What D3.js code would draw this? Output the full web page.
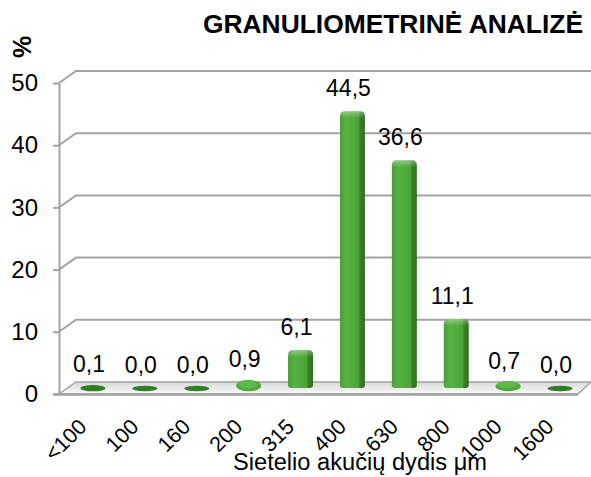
<!DOCTYPE html>
<html>
<head>
<meta charset="utf-8">
<script src="https://cdn.jsdelivr.net/npm/d3@7"></script>
<style>
  html, body { margin: 0; padding: 0; background: #ffffff; }
  svg { display: block; font-family: "Liberation Sans", Arial, sans-serif; }
</style>
</head>
<body>
<svg id="chart" width="591" height="477"></svg>
<script>
// ---- data ----
const categories = ["<100", "100", "160", "200", "315", "400", "630", "800", "1000", "1600"];
const values = [0.1, 0.0, 0.0, 0.9, 6.1, 44.5, 36.6, 11.1, 0.7, 0.0];
const yTicks = [0, 10, 20, 30, 40, 50];
const titleText = "GRANULIOMETRINĖ ANALIZĖ";
const yAxisTitle = "%";
const xAxisTitle = "Sietelio akučių dydis μm";

// ---- layout ----
const svg = d3.select("#chart");
const left = 59, right = 578, y0px = 394, y50px = 83;
const depthX = 17, depthY = 12;
const gridColor = "#a3a3a3";
const FONT = "Liberation Sans, Arial, sans-serif";

const x = d3.scaleBand().domain(categories).range([left, right]).paddingInner(0).paddingOuter(0);
const y = d3.scaleLinear().domain([0, 50]).range([y0px, y50px]);
const fmt = v => d3.format(".1f")(v).replace(".", ",");

const defs = svg.append("defs");
const barGrad = defs.append("linearGradient").attr("id", "barGrad").attr("x1", "0").attr("x2", "1").attr("y1", "0").attr("y2", "0");
[["0%", "#4a9f37"], ["25%", "#56b142"], ["60%", "#4fa93c"], ["76%", "#49a137"], ["80%", "#3a8229"], ["100%", "#2f6d22"]]
  .forEach(([o, c]) => barGrad.append("stop").attr("offset", o).attr("stop-color", c));
const topGrad = defs.append("linearGradient").attr("id", "topGrad").attr("x1", "0").attr("x2", "0").attr("y1", "0").attr("y2", "1");
topGrad.append("stop").attr("offset", "0%").attr("stop-color", "#ffffff").attr("stop-opacity", 0.35);
topGrad.append("stop").attr("offset", "100%").attr("stop-color", "#ffffff").attr("stop-opacity", 0);
const floorGrad = defs.append("linearGradient").attr("id", "floorGrad").attr("x1", "0").attr("x2", "0").attr("y1", "0").attr("y2", "1");
floorGrad.append("stop").attr("offset", "0%").attr("stop-color", "#d8d8d8");
floorGrad.append("stop").attr("offset", "100%").attr("stop-color", "#fafafa");

// ---- back wall gridlines ----
const grid = svg.append("g");
yTicks.filter(t => t > 0).forEach(t => {
  grid.append("path")
    .attr("d", `M${left},${y(t)} L${left + depthX},${y(t) - depthY} L591,${y(t) - depthY}`)
    .attr("fill", "none").attr("stroke", gridColor).attr("stroke-width", 2);
});

// ---- floor ----
svg.append("path")
  .attr("d", `M${left},${y(0)} L${left + depthX},${y(0) - depthY} L591,${y(0) - depthY} L${right},${y(0)} Z`)
  .attr("fill", "url(#floorGrad)").attr("stroke", gridColor).attr("stroke-width", 1.5);
svg.append("line").attr("x1", left - 6).attr("x2", right).attr("y1", y(0) + 0.5).attr("y2", y(0) + 0.5)
  .attr("stroke", gridColor).attr("stroke-width", 2.5);

// ---- y axis ----
const yAxis = d3.axisLeft(y).tickValues(yTicks).tickSize(6).tickSizeOuter(0).tickPadding(15).tickFormat(d => d);
const gy = svg.append("g").attr("transform", `translate(${left},0)`).call(yAxis);
gy.select(".domain").attr("stroke", gridColor).attr("stroke-width", 2);
gy.selectAll(".tick line").attr("stroke", gridColor).attr("stroke-width", 2);
gy.selectAll(".tick text").attr("font-size", 24).attr("fill", "#000").attr("font-family", FONT);

// ---- bars ----
const bw = 25;
const barBase = y(0) - 6;
const pxPerUnit = y(0) - y(1);
const barsG = svg.append("g");
const labelsG = svg.append("g");
categories.forEach((c, i) => {
  const v = values[i];
  const cx = x(c) + x.bandwidth() / 2 + 8;
  const h = v * pxPerUnit;
  const xl = cx - bw / 2, xr = cx + bw / 2;
  if (h < 8) {
    const ry = 2.8 + h / 2;
    barsG.append("ellipse")
      .attr("cx", cx).attr("cy", barBase - h / 2 + 0.5)
      .attr("rx", bw / 2).attr("ry", ry)
      .attr("fill", v < 0.5 ? "#2f7d25" : "#4ea83b");
    if (v >= 0.5) {
      barsG.append("ellipse").attr("cx", cx - 1).attr("cy", barBase - h / 2 - 1)
        .attr("rx", bw / 2 - 3).attr("ry", ry - 1.5).attr("fill", "#5dba48");
    }
  } else {
    const top = barBase - h;
    const r = 5, rb = 3;
    const d = `M${xl},${barBase - rb} L${xl},${top + r} Q${xl},${top} ${xl + r},${top} L${xr - r},${top} Q${xr},${top} ${xr},${top + r} L${xr},${barBase - rb} Q${xr},${barBase} ${xr - rb},${barBase} L${xl + rb},${barBase} Q${xl},${barBase} ${xl},${barBase - rb} Z`;
    barsG.append("path").attr("d", d).attr("fill", "url(#barGrad)");
    barsG.append("path")
      .attr("d", `M${xl},${top + 7} L${xl},${top + r} Q${xl},${top} ${xl + r},${top} L${xr - r},${top} Q${xr},${top} ${xr},${top + r} L${xr},${top + 7} Z`)
      .attr("fill", "url(#topGrad)");
  }
  // value label
  labelsG.append("text")
    .attr("x", cx - 4).attr("y", barBase - h - 15)
    .attr("text-anchor", "middle").attr("font-size", 23).attr("fill", "#000")
    .attr("font-family", FONT)
    .text(fmt(v));
});

// ---- x axis labels ----
const xAxis = d3.axisBottom(x).tickSize(0).tickPadding(0);
const gx = svg.append("g").call(xAxis);
gx.select(".domain").remove();
gx.selectAll(".tick").attr("transform", d => `translate(${x(d) + x.bandwidth() / 2 + 3},${428})`);
gx.selectAll(".tick text")
  .attr("x", 0).attr("y", 0).attr("dy", 0)
  .attr("transform", "rotate(-45)")
  .attr("text-anchor", "end")
  .attr("font-size", 21.5).attr("fill", "#000")
  .attr("font-family", FONT);

// ---- titles ----
svg.append("text")
  .attr("x", 583).attr("y", 33).attr("text-anchor", "end")
  .attr("font-size", 26).attr("font-weight", "bold").attr("fill", "#000")
  .attr("font-family", FONT)
  .attr("textLength", 380).attr("lengthAdjust", "spacingAndGlyphs")
  .text(titleText);
svg.append("text")
  .attr("transform", "translate(31,47) rotate(-90)")
  .attr("text-anchor", "middle")
  .attr("font-size", 25).attr("font-weight", "bold").attr("fill", "#000")
  .attr("font-family", FONT)
  .text(yAxisTitle);
svg.append("text")
  .attr("x", 360).attr("y", 470).attr("text-anchor", "middle")
  .attr("font-size", 23.5).attr("fill", "#000")
  .attr("font-family", FONT)
  .attr("textLength", 254).attr("lengthAdjust", "spacingAndGlyphs")
  .text(xAxisTitle);
</script>
</body>
</html>
